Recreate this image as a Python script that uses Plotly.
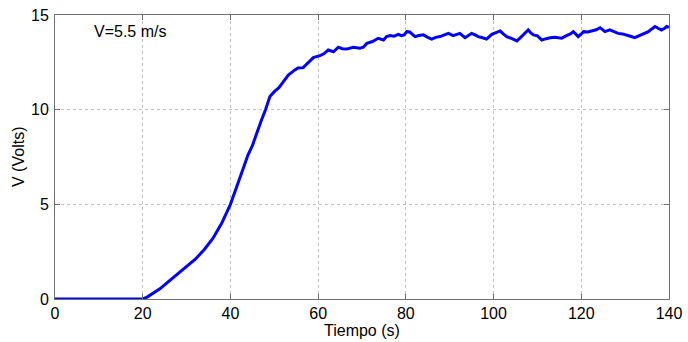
import plotly.graph_objects as go

# Time (s) and voltage (V)
t = [0, 20.0, 21.0, 22.0, 24.0, 26.0, 28.0, 30.0, 32.0, 34.0, 36.0, 38.0, 40.0,
     42.0, 43.0, 44.0, 45.0, 46.0, 47.0, 48.0, 49.0, 50.0, 51.0, 52.0,
     53.2, 54.7, 55.4, 56.6, 57.5, 58.9, 60.4, 61.3, 62.3, 63.5, 64.6, 65.5,
     66.5, 67.3, 68.0, 69.5, 70.3, 71.1, 72.4, 73.7, 74.9, 75.6, 76.4, 77.3,
     78.3, 79.0, 79.6, 80.2, 80.9, 81.5, 82.1, 83.0, 84.0, 85.0, 85.9, 86.8,
     87.8, 88.8, 89.7, 90.8, 91.5, 92.3, 93.5, 94.2, 95.0, 95.8, 96.5, 97.5,
     98.4, 99.6, 100.5, 101.5, 102.2, 103.0, 104.2, 105.3, 106.0, 106.8, 107.9,
     108.5, 109.1, 110.0, 111.0, 112.0, 112.9, 114.0, 115.5, 116.5, 117.5,
     118.2, 119.3, 120.0, 120.5, 121.5, 122.4, 123.4, 124.3, 125.4, 126.5,
     127.5, 128.4, 129.4, 130.3, 131.2, 132.2, 133.0, 133.8, 134.5, 135.3,
     136.0, 136.8, 137.5, 138.3, 139.0, 139.5, 140.0]
v = [0, 0.0, 0.1, 0.25, 0.55, 0.95, 1.35, 1.7, 2.1, 2.6, 3.2, 4.0, 5.0,
     6.3, 7.0, 7.6, 8.1, 8.8, 9.4, 10.0, 10.7, 10.95, 11.15, 11.45,
     11.83, 12.1, 12.2, 12.22, 12.45, 12.75, 12.85, 12.95, 13.15, 13.06, 13.3, 13.22,
     13.2, 13.27, 13.3, 13.24, 13.3, 13.5, 13.6, 13.77, 13.68, 13.86, 13.91, 13.88,
     13.98, 13.91, 13.95, 14.12, 14.1, 13.98, 13.86, 13.92, 13.95, 13.82, 13.73, 13.82,
     13.86, 13.95, 14.03, 13.91, 13.98, 14.03, 13.8, 13.92, 14.03, 13.95, 13.86, 13.8,
     13.73, 13.98, 14.05, 14.16, 14.0, 13.86, 13.75, 13.63, 13.78, 13.95, 14.21,
     14.05, 13.95, 13.9, 13.68, 13.75, 13.8, 13.82, 13.77, 13.9, 14.0,
     14.12, 13.86, 14.0, 14.12, 14.1, 14.16, 14.22, 14.33, 14.12, 14.21,
     14.1, 14.03, 14.0, 13.95, 13.88, 13.8, 13.88, 13.95, 14.02, 14.12,
     14.25, 14.39, 14.3, 14.21, 14.3, 14.39, 14.35]

x_ticks = [0, 20, 40, 60, 80, 100, 120, 140]
y_ticks = [0, 5, 10, 15]

FONT = "Liberation Sans, Arial, sans-serif"

fig = go.Figure()
fig.add_trace(go.Scatter(x=t, y=v, mode="lines",
                         line=dict(color="#0000FF", width=3),
                         showlegend=False))

axis_common = dict(
    showline=True, linecolor="#707070", linewidth=1, mirror="ticks",
    ticks="inside", ticklen=5, tickcolor="#707070",
    showgrid=True, gridcolor="#c0c0c0", griddash="dot", gridwidth=1,
    zeroline=False, automargin=False, ticklabeloverflow="allow",
    tickfont=dict(family=FONT, size=16, color="#000000"),
)

fig.update_xaxes(range=[0, 140], tickvals=x_ticks, **axis_common)
fig.update_yaxes(range=[0, 15], tickvals=y_ticks, ticklabelstandoff=2, **axis_common)

fig.add_annotation(x=8.4, y=14.15, xref="x", yref="y", text="V=5.5 m/s",
                   showarrow=False, xanchor="left", yanchor="middle",
                   font=dict(family=FONT, size=16, color="#000000"))
fig.add_annotation(x=0.5, y=0, xref="paper", yref="paper", yshift=-21,
                   text="Tiempo (s)", showarrow=False, xanchor="center", yanchor="top",
                   font=dict(family=FONT, size=16, color="#000000"))
fig.add_annotation(x=0, y=0.5, xref="paper", yref="paper", xshift=-37,
                   text="V (Volts)", textangle=-90, showarrow=False,
                   xanchor="center", yanchor="middle",
                   font=dict(family=FONT, size=16, color="#000000"))

fig.update_layout(
    width=688, height=342,
    margin=dict(l=55, r=19, t=15, b=43),
    paper_bgcolor="white", plot_bgcolor="white",
)

fig.write_html("out.html")
